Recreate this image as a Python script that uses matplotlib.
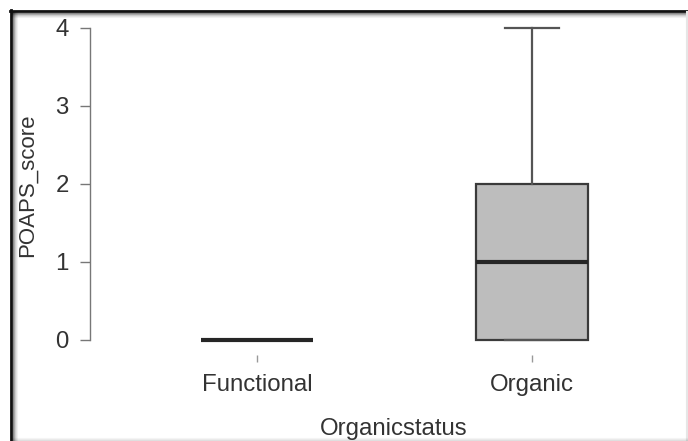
#!/usr/bin/env python3
# Box plot of POAPS score by organic status (R base-graphics look)

import matplotlib
matplotlib.use("Agg")
import matplotlib.pyplot as plt
from matplotlib.lines import Line2D

# Summary statistics per group
categories = ["Functional", "Organic"]
q1 = [0, 0]
medians = [0, 1]
q3 = [0, 2]
whisker_low = [0, 0]
whisker_high = [0, 4]
y_ticks = [0, 1, 2, 3, 4]

W, H = 688, 441
plt.rcParams['font.family'] = ['Liberation Sans', 'DejaVu Sans']
text_col = '#333333'
fs = 17.3

fig = plt.figure(figsize=(W / 100, H / 100), dpi=100)

# axes region in pixels: x 90..680, y 20..355 (from top)
ax = fig.add_axes([90 / W, (H - 355) / H, 590 / W, 335 / H])
ax.set_facecolor('none')

stats = []
for i, name in enumerate(categories):
    stats.append({
        'label': name,
        'q1': q1[i], 'med': medians[i], 'q3': q3[i],
        'whislo': whisker_low[i], 'whishi': whisker_high[i],
        'fliers': [],
    })

ax.bxp(stats, positions=[1, 2], widths=0.404, capwidths=0.196,
       patch_artist=True, manage_ticks=False,
       boxprops=dict(facecolor='#bdbdbd', edgecolor='#3a3a3a', linewidth=1.6),
       medianprops=dict(color='#262626', linewidth=3.0, solid_capstyle='butt'),
       whiskerprops=dict(color='#555555', linewidth=1.6),
       capprops=dict(color='#555555', linewidth=1.6))

ax.set_xlim(1 - 167 / 275, 2 + 148 / 275)
ax.set_ylim(-15 / 78, 4 + 8 / 78)

for s in ['top', 'right', 'bottom']:
    ax.spines[s].set_visible(False)
ax.spines['left'].set_bounds(0, 4)
ax.spines['left'].set_color('#777777')
ax.spines['left'].set_linewidth(1.0)

ax.set_yticks(y_ticks)
ax.set_yticklabels([str(t) for t in y_ticks])
ax.tick_params(axis='y', length=7.2, width=1.0, color='#777777', pad=8,
               labelsize=fs, labelcolor=text_col)

ax.set_xticks([1, 2])
ax.set_xticklabels(categories)
ax.tick_params(axis='x', length=5, width=1.0, color='#999999', pad=9,
               labelsize=fs, labelcolor=text_col)

fig.text(394 / W, 6 / H, 'Organicstatus', ha='center', va='baseline',
         fontsize=fs, color=text_col)
fig.text(27.5 / W, (H - 185) / H, 'POAPS_score', ha='center', va='center',
         rotation=90, fontsize=16, color=text_col)

# window frame with a soft shadow along the top and left edges
def px_line(x0, y0, x1, y1, **kw):
    fig.add_artist(Line2D([x0 / W, x1 / W], [1 - y0 / H, 1 - y1 / H],
                          transform=fig.transFigure, **kw))

px_line(11, 10, 11, H, color='#111111', linewidth=2.0)
px_line(10, 11, W, 11, color='#111111', linewidth=2.0)
for k, a in enumerate([0.45, 0.3, 0.18, 0.1, 0.05]):
    px_line(13 + k, 12, 13 + k, H, color='black', alpha=a, linewidth=0.8)
    px_line(12, 13 + k, W, 13 + k, color='black', alpha=a, linewidth=0.8)
px_line(W - 1, 12, W - 1, H, color='#e6e6e6', linewidth=1.5)
for k, a in enumerate([0.12, 0.07, 0.04]):
    px_line(12, H - 1 - k, W, H - 1 - k, color='black', alpha=a, linewidth=0.8)

fig.savefig('out.png', dpi=100)
